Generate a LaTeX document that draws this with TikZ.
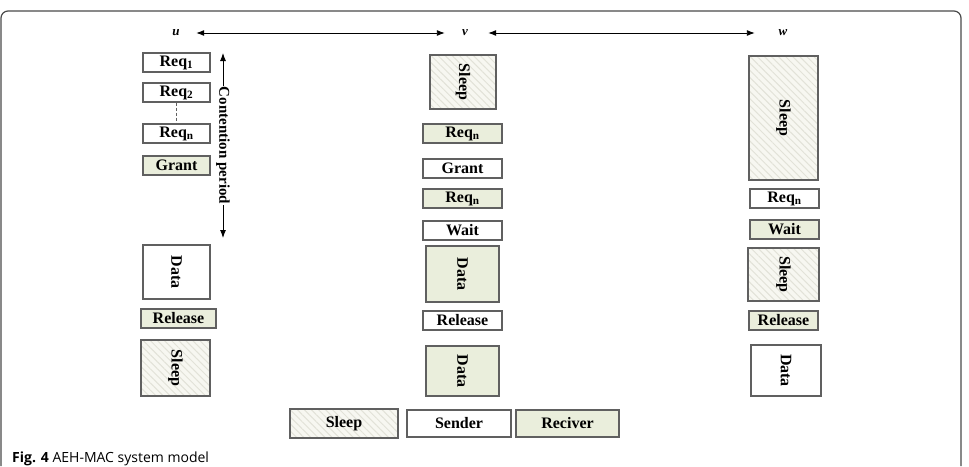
\documentclass[tikz,border=0pt]{standalone}
\usepackage{fontspec}
\setmainfont{Liberation Serif}
\newfontfamily\capfont{Open Sans}
\usepackage{xcolor}
\definecolor{RcvGreen} {HTML}{EAEEDC}
\definecolor{SlpCream} {HTML}{F7F7F1}
\definecolor{HatchGray}{HTML}{E2E2D8}
\definecolor{BoxGray}  {HTML}{606060}
\definecolor{FrameGray}{HTML}{4A4A4A}
\usetikzlibrary{arrows.meta,patterns.meta}

\begin{document}
\begin{tikzpicture}[x=1pt,y=-1pt,
  sndbox/.style={draw=BoxGray,line width=1.2pt,fill=white,inner sep=0pt,
    font=\fontsize{16}{18}\selectfont\bfseries,minimum height=19pt},
  rcvbox/.style={sndbox,fill=RcvGreen},
  slpbox/.style={sndbox,fill=none,preaction={fill=SlpCream},
    preaction={pattern={Lines[angle=-45,distance=5pt,line width=1pt]},
      pattern color=HatchGray}},
  vtxt/.style={rotate=-90},
  nodelbl/.style={font=\fontsize{13}{15}\selectfont\bfseries\itshape,
    minimum width=40pt,inner sep=0pt},
  dblarr/.style={{Latex[length=8pt,width=6pt]}-{Latex[length=8pt,width=6pt]},
    line width=0.9pt,black}]
  \useasboundingbox (0,0) rectangle (969,466);
  % frame, open at the bottom
  \draw[FrameGray,line width=1.2pt,rounded corners=7pt]
    (1,466) -- (1,11) -- (961,11) -- (961,466);
  % node labels
  \node[nodelbl](u) at (176,33) {u};
  \node[nodelbl](v) at (465,33) {v};
  \node[nodelbl](w) at (783,33) {w};
  \draw[dblarr](u)--(v);
  \draw[dblarr,shorten <=3pt,shorten >=8pt](v)--(w);
  % column u
  \node[sndbox,minimum width=67pt](req1u) at (176.5,62.5) {Req\textsubscript{1}};
  \node[sndbox,minimum width=67pt](req2u) at (176.5,92.5) {Req\textsubscript{2}};
  \node[sndbox,minimum width=67pt](reqnu) at (176.5,133.5) {Req\textsubscript{n}};
  \node[rcvbox,minimum width=67pt](grantu) at (176.5,165.5) {Grant};
  \node[sndbox,vtxt,minimum width=54pt,minimum height=67pt](datau) at (176.5,272) {Data};
  \node[rcvbox,minimum width=75pt](relu) at (178.5,318.5) {Release};
  \node[slpbox,vtxt,minimum width=56pt,minimum height=69pt](sleepu) at (175.5,368) {Sleep};
  \draw[densely dashed,BoxGray,line width=0.6pt](req2u)--(reqnu);
  % Annotation
  \coordinate(cpTop) at (223,53);
  \coordinate(cpBot) at (223,238);
  \draw[dblarr](cpTop)--node[fill=white,vtxt,inner sep=1pt,
    font=\fontsize{15}{17}\selectfont\bfseries]{Contention period}(cpBot);
  % column v
  \node[slpbox,vtxt,minimum width=54pt,minimum height=66pt](sleepv) at (463,82) {Sleep};
  \node[rcvbox,minimum width=79pt](reqv1) at (462.5,133.5) {Req\textsubscript{n}};
  \node[sndbox,minimum width=79pt](grantv) at (462.5,168.5) {Grant};
  \node[rcvbox,minimum width=79pt](reqv2) at (462.5,198.5) {Req\textsubscript{n}};
  \node[sndbox,minimum width=79pt](waitv) at (462.5,230.5) {Wait};
  \node[rcvbox,vtxt,minimum width=56pt,minimum height=73pt](datav1) at (462.5,274) {Data};
  \node[sndbox,minimum width=79pt](relv) at (462.5,320.5) {Release};
  \node[rcvbox,vtxt,minimum width=50pt,minimum height=73pt](datav2) at (462.5,371) {Data};
  % column w
  \node[slpbox,vtxt,minimum width=124pt,minimum height=69pt](sleepw1) at (783.5,118) {Sleep};
  \node[sndbox,minimum width=69pt](reqw) at (784.5,198.5) {Req\textsubscript{n}};
  \node[rcvbox,minimum width=69pt](waitw) at (784.5,229.5) {Wait};
  \node[slpbox,vtxt,minimum width=53pt,minimum height=71pt](sleepw2) at (783.5,274.5) {Sleep};
  \node[rcvbox,minimum width=69pt](relw) at (783.5,320.5) {Release};
  \node[sndbox,vtxt,minimum width=51pt,minimum height=70pt](dataw) at (786,370.5) {Data};
  % legend
  \node[slpbox,minimum width=108pt,minimum height=29pt](legSleep) at (344,423.5) {Sleep};
  \node[sndbox,minimum width=104pt,minimum height=27pt](legSend) at (459,423.5) {Sender};
  \node[rcvbox,minimum width=103pt,minimum height=27pt](legRecv) at (567.5,423.5) {Reciver};
  % caption
  \node[anchor=base west,inner sep=0pt,font=\capfont\fontsize{14}{16}\selectfont](cap)
    at (12,462) {{\bfseries Fig. 4} AEH-MAC system model};
\end{tikzpicture}
\end{document}
